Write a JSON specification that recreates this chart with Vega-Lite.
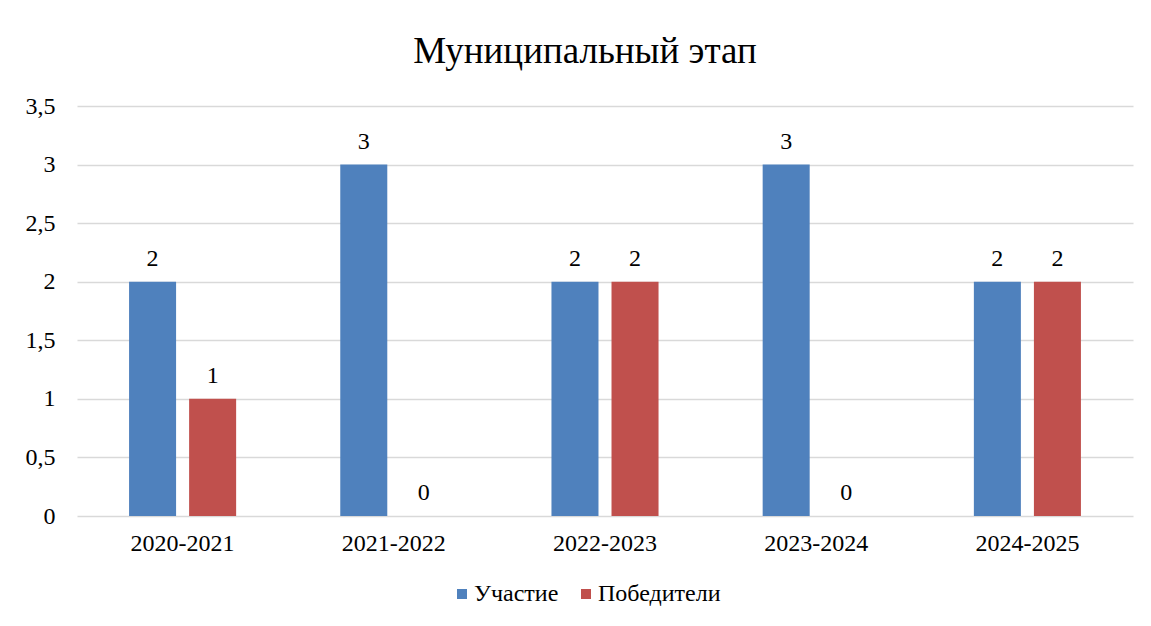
{
  "$schema": "https://vega.github.io/schema/vega-lite/v6.json",
  "autosize": {"type": "none"},
  "width": 1056,
  "height": 410,
  "padding": {"left": 77, "top": 106, "right": 18, "bottom": 110},
  "background": "white",
  "title": {"text": "Муниципальный этап", "font": "Liberation Serif", "fontSize": 37, "fontWeight": "normal", "color": "#000000", "offset": 23, "dx": -20},
  "data": {"values": [
    {"year": "2020-2021", "series": "Участие", "value": 2},
    {"year": "2020-2021", "series": "Победители", "value": 1},
    {"year": "2021-2022", "series": "Участие", "value": 3},
    {"year": "2021-2022", "series": "Победители", "value": 0},
    {"year": "2022-2023", "series": "Участие", "value": 2},
    {"year": "2022-2023", "series": "Победители", "value": 2},
    {"year": "2023-2024", "series": "Участие", "value": 3},
    {"year": "2023-2024", "series": "Победители", "value": 0},
    {"year": "2024-2025", "series": "Участие", "value": 2},
    {"year": "2024-2025", "series": "Победители", "value": 2}
  ]},
  "encoding": {
    "x": {"field": "year", "type": "nominal", "sort": null, "scale": {"paddingInner": 0, "paddingOuter": 0},
      "axis": {"title": null, "labelAngle": 0, "domain": false, "ticks": false, "labelFont": "Liberation Serif", "labelFontSize": 24, "labelColor": "#000000", "labelPadding": 15}},
    "xOffset": {"field": "series", "type": "nominal", "sort": ["Участие", "Победители"], "scale": {"paddingInner": 0.217, "paddingOuter": 0.867}},
    "y": {"field": "value", "type": "quantitative", "scale": {"domain": [0, 3.5], "nice": false},
      "axis": {"title": null, "values": [0, 0.5, 1, 1.5, 2, 2.5, 3, 3.5], "labelExpr": "replace(format(datum.value, ''), '.', ',')", "domain": false, "ticks": false, "gridColor": "#D9D9D9", "gridWidth": 1.5, "labelFont": "Liberation Serif", "labelFontSize": 24, "labelColor": "#000000", "labelPadding": 22}}
  },
  "layer": [
    {"mark": {"type": "bar"},
     "encoding": {"color": {"field": "series", "type": "nominal", "sort": ["Участие", "Победители"],
       "scale": {"domain": ["Участие", "Победители"], "range": ["#4F81BD", "#C0504D"]},
       "legend": {"title": null, "orient": "none", "legendX": 373, "legendY": 476, "direction": "horizontal", "symbolType": "square", "symbolSize": 100, "symbolStrokeWidth": 0, "labelFont": "Liberation Serif", "labelFontSize": 24, "labelColor": "#000000", "labelOffset": 0, "columnPadding": 15}}}},
    {"mark": {"type": "text", "baseline": "alphabetic", "dy": -16, "font": "Liberation Serif", "fontSize": 24, "color": "#000000"},
     "encoding": {"text": {"field": "value", "type": "quantitative"}}}
  ],
  "config": {"view": {"stroke": null}}
}
